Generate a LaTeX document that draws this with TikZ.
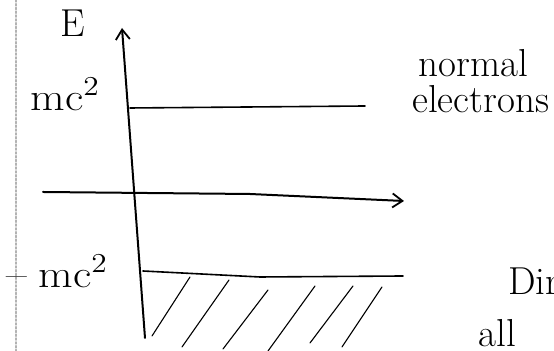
\documentclass[tikz,border=0pt]{standalone}
\usetikzlibrary{arrows.meta}
\begin{document}
\begin{tikzpicture}[x=0.5pt,y=-0.5pt,line cap=round,line join=round,
  axis/.style={line width=1pt,-{Straight Barb[length=5pt,width=7pt,line width=0.9pt]}},
  level/.style={line width=0.8pt},
  hatch/.style={line width=0.55pt},
  lbl/.style={inner sep=0pt,anchor=base west,font=\fontsize{19.5}{19.5}\selectfont}]
\useasboundingbox (0,0) rectangle (554,351);
% margin rule
\draw[gray!60,densely dotted,line width=0.9pt] (16,0) -- (16,351);
% axes
\coordinate (vbot) at (145,338);
\coordinate (vtop) at (122,28);
\draw[axis] (vbot) -- (vtop);
\coordinate (hl) at (43,192);
\coordinate (hm) at (250,194);
\coordinate (hr) at (404,201);
\draw[axis] (hl) -- (hm) -- (hr);
% levels
\coordinate (pl) at (130,108);
\coordinate (pr) at (365,106);
\draw[level] (pl) -- (pr);
\coordinate (nl) at (143,271);
\coordinate (nm) at (260,277);
\coordinate (nr) at (403,276);
\draw[level] (nl) -- (nm) -- (nr);
% hatching
\foreach \i/\a/\b/\c/\d in {1/152/336/190/277, 2/182/347/229/280, 3/223/349/268/290,
                            4/268/351/315/286, 5/310/343/353/286, 6/342/347/382/287}{
  \coordinate (hb\i) at (\a,\b);
  \coordinate (ht\i) at (\c,\d);
  \draw[hatch] (hb\i) -- (ht\i);
}
% labels
\node[lbl] (E) at (60,37) {E};
\node[lbl,xscale=1.15] (mcp) at (30,111) {mc\textsuperscript{2}};
\node[lbl,xscale=1.15] (mcn) at (6,288) {\textendash\hspace{5pt}mc\textsuperscript{2}};
\node[lbl] (normal) at (418,77) {normal};
\node[lbl] (electrons) at (412,113) {electrons};
\node[lbl] (dir) at (508,295) {Dir};
\node[lbl] (all) at (478,347) {all};
\end{tikzpicture}
\end{document}
